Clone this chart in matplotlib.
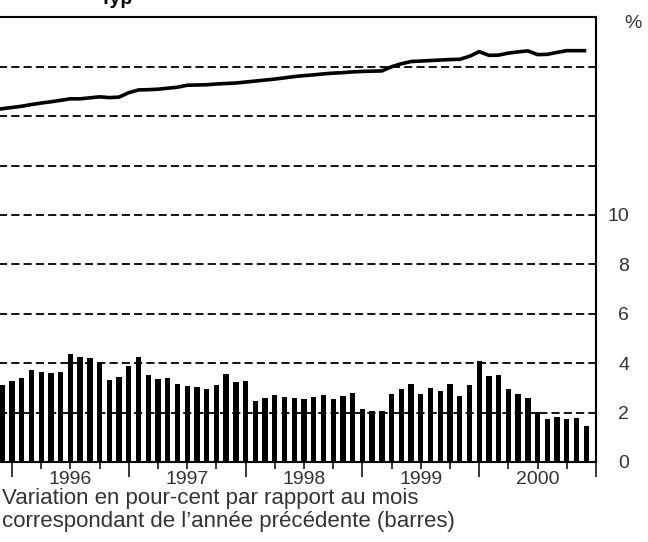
import numpy as np
import matplotlib.pyplot as plt

# months counted from Jan 1996 (m=0)
bar_months = list(range(-1, 60))
bar_values = [3.12,
              3.28, 3.40, 3.72, 3.64, 3.60, 3.64, 4.36, 4.25, 4.21, 4.05, 3.32, 3.45,
              3.89, 4.25, 3.53, 3.37, 3.41, 3.17, 3.09, 3.05, 2.97, 3.13, 3.57, 3.25,
              3.28, 2.45, 2.61, 2.73, 2.65, 2.61, 2.53, 2.65, 2.73, 2.53, 2.69, 2.81,
              2.13, 2.05, 2.05, 2.77, 2.97, 3.17, 2.77, 3.01, 2.89, 3.17, 2.69, 3.13,
              4.08, 3.49, 3.53, 2.97, 2.77, 2.61, 2.01, 1.73, 1.81, 1.73, 1.77, 1.45]

line_months = list(range(-2, 60))
line_values = [14.25, 14.30,
               14.35, 14.40, 14.47, 14.53, 14.58, 14.64, 14.70, 14.70, 14.74, 14.78, 14.75, 14.77,
               14.95, 15.06, 15.07, 15.09, 15.13, 15.17, 15.25, 15.26, 15.27, 15.30, 15.32, 15.34,
               15.38, 15.42, 15.46, 15.50, 15.55, 15.60, 15.64, 15.67, 15.71, 15.74, 15.76, 15.79,
               15.81, 15.82, 15.83, 16.00, 16.12, 16.21, 16.23, 16.25, 16.27, 16.29, 16.30, 16.42,
               16.61, 16.46, 16.47, 16.55, 16.60, 16.64, 16.49, 16.50, 16.58, 16.65, 16.65, 16.65]

years = [1996, 1997, 1998, 1999, 2000]
right_ticks = [0, 2, 4, 6, 8, 10]
grid_levels = [2, 4, 6, 8, 10, 12, 14, 16]

plt.rcParams['font.family'] = ['Liberation Sans', 'DejaVu Sans']
txt = '#333333'

W, H = 648, 542
fig = plt.figure(figsize=(W / 100, H / 100), dpi=100)

# axes partly outside the figure on the left (cropped view)
px_per_year = 116.8
x0_px = 12 - 0.5 * px_per_year
ax = fig.add_axes([x0_px / W, 1 - 462 / H, (596 - x0_px) / W, (462 - 17.3) / H])

for g in grid_levels:
    ax.axhline(g, color='black', lw=1.3, ls=(0, (4.5, 2.3)), zorder=1)

xb = [1996 + m / 12 for m in bar_months]
ax.bar(xb, bar_values, width=0.55 / 12, color='black', zorder=2)

xl = [1996 + m / 12 for m in line_months]
ax.plot(xl, line_values, color='black', lw=2.6, solid_capstyle='butt', zorder=3)

for s in ['top', 'right', 'bottom']:
    ax.spines[s].set_linewidth(1.5)
ax.spines['left'].set_visible(False)

ax.yaxis.tick_right()
ax.set_yticks(right_ticks)
ax.set_yticklabels([str(v) for v in right_ticks])
ax.tick_params(axis='y', length=0, pad=24, labelsize=14, labelcolor=txt)
for lab in ax.get_yticklabels():
    lab.set_horizontalalignment('right')

ax.set_xticks(years + [2001])
ax.set_xticklabels([])
ax.tick_params(axis='x', which='major', direction='out', length=11, width=1.1)
minor = []
minor_labels = []
for y in [1995] + years:
    for q in [0.25, 0.5, 0.75]:
        minor.append(y + q)
        minor_labels.append(str(y) if (q == 0.5 and y in years) else '')
ax.set_xticks(minor, minor=True)
ax.set_xticklabels(minor_labels, minor=True)
ax.tick_params(axis='x', which='minor', direction='out', length=4.7, width=1.1,
               pad=1.5, labelsize=14, labelcolor=txt)

ax.set_xlim(1995.5, 2001.0)
ax.set_ylim(0, 18)

fig.text(633 / W, 1 - 23 / H, '%', fontsize=14, color=txt, ha='center', va='center')
fig.text(2 / W, 1 - 504 / H, 'Variation en pour-cent par rapport au mois',
         fontsize=16, color=txt, ha='left', va='baseline')
fig.text(2 / W, 1 - 527 / H, 'correspondant de l\u2019ann\u00e9e pr\u00e9c\u00e9dente (barres)',
         fontsize=16, color=txt, ha='left', va='baseline')
fig.text(100 / W, 1 - 4 / H, 'Typ', fontsize=14, fontweight='bold', ha='left', va='baseline')

fig.savefig('out.png', dpi=100)
